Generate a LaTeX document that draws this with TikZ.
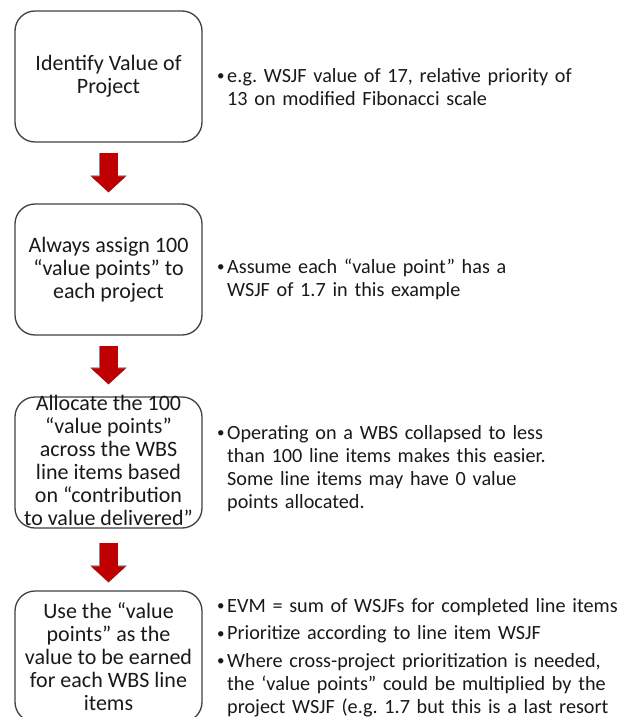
\documentclass[tikz,border=0pt]{standalone}
\usepackage{fontspec}
\setmainfont{Carlito}
\usetikzlibrary{arrows.meta}
\usetikzlibrary{calc, positioning}
\definecolor{arrowred}{HTML}{C00000}
\definecolor{arrowline}{RGB}{120,140,170}
\definecolor{boxline}{HTML}{404040}
\newcommand{\bitem}{\rule{0pt}{17pt}\makebox[11pt][l]{\hspace{1pt}%
    \raisebox{1.5pt}{\fontsize{15}{15}\selectfont •}}}
\newcommand{\bcont}{\hspace*{11pt}}
\tikzset{
  stepbox/.style={draw=boxline, line width=1.3pt, rounded corners=20pt,
      minimum width=187pt, minimum height=131pt, inner sep=0pt},
  boxtext/.style={align=center, inner sep=0pt, text=black!90,
      font=\fontsize{22}{23}\selectfont},
  notetext/.style={anchor=north west, text width=410pt, align=left,
      inner sep=0pt, text=black!90,
      font=\fontsize{20.2}{23}\selectfont\frenchspacing},
  downarrow/.style={draw=arrowred, line width=18pt,
      -{Triangle[width=34pt,length=16pt]},
      preaction={draw=arrowline, line width=19.2pt,
          -{Triangle[width=35.6pt,length=17pt]}}},
}

\begin{document}
\begin{tikzpicture}[x=1pt, y=-1pt]
      \useasboundingbox (0,0) rectangle (629,717);
      \clip (0,0) rectangle (629,717);

      % the four steps
      \node [stepbox] (b1) at (108.5,76.5) {};
      \node [stepbox] (b2) at (108.5,269.5) {};
      \node [stepbox] (b3) at (108.5,462.5) {};
      \node [stepbox] (b4) at (108.5,656.5) {};

      \node [boxtext] (t1) at (b1) {Identify Value of\\Project};
      \node [boxtext] (t2) at (b2) {Always assign 100\\“value points” to\\each project};
      \node [boxtext] (t3) at ($(b3)+(0,-2)$) {Allocate the 100\\“value points”\\across the WBS\\line items based\\on “contribution\\to value delivered”};
      \node [boxtext] (t4) at (b4) {Use the “value\\points” as the\\value to be earned\\for each WBS line\\items};

      \draw [downarrow, shorten <=10pt, shorten >=11pt] (b1.south) -- (b2.north);
      \draw [downarrow, shorten <=10pt, shorten >=12pt] (b2.south) -- (b3.north);
      \draw [downarrow, shorten <=14pt, shorten >=8pt] (b3.south) -- (b4.north);

      % notes beside each step
      \node [notetext] (n1) at (216,65) {\bitem e.g. WSJF value of 17, relative priority of\\
          \bcont 13 on modified Fibonacci scale};
      \node [notetext] (n2) at (216,256) {\bitem Assume each “value point” has a\\
          \bcont WSJF of 1.7 in this example};
      \node [notetext] (n3) at (216,422) {\bitem Operating on a WBS collapsed to less\\
          \bcont than 100 line items makes this easier.\\
          \bcont Some line items may have 0 value\\
          \bcont points allocated.};
      \node [notetext] (n4) at (216,595) {\bitem EVM = sum of WSJFs for completed line items\\[4.5pt]
          \bitem Prioritize according to line item WSJF\\[4.5pt]
          \bitem Where cross-project prioritization is needed,\\
          \bcont the ‘value points” could be multiplied by the\\
          \bcont project WSJF (e.g. 1.7 but this is a last resort};
\end{tikzpicture}
\end{document}
